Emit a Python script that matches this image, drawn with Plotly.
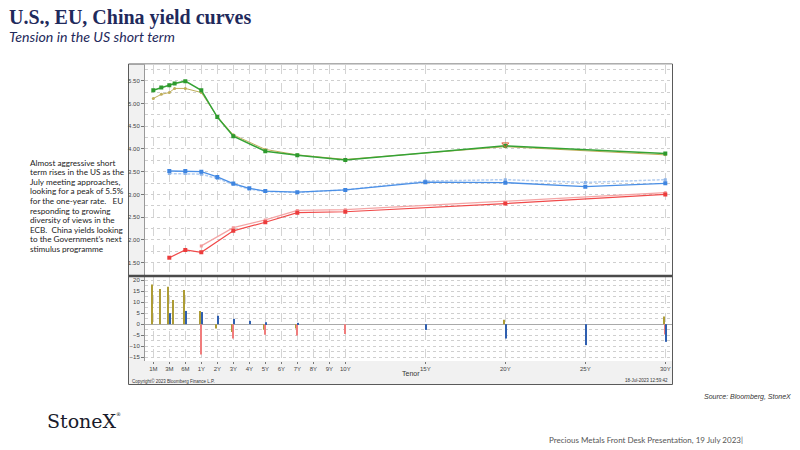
import plotly.graph_objects as go

# ---------------- data ----------------
tick_tenors = ["1M", "3M", "6M", "1Y", "2Y", "3Y", "4Y", "5Y", "6Y", "7Y", "8Y", "9Y", "10Y",
               "15Y", "20Y", "25Y", "30Y"]

us_tenors = ["1M", "2M", "3M", "4M", "6M", "1Y", "2Y", "3Y", "5Y", "7Y", "10Y", "20Y", "30Y"]
us_now = [5.29, 5.35, 5.40, 5.44, 5.49, 5.29, 4.70, 4.28, 3.95, 3.86, 3.76, 4.07, 3.90]
us_prev = [5.11, 5.20, 5.24, 5.33, 5.33, 5.24, 4.71, 4.31, 3.99, 3.87, 3.77, 4.05, 3.87]

eu_tenors = ["3M", "6M", "1Y", "2Y", "3Y", "4Y", "5Y", "7Y", "10Y", "15Y", "20Y", "25Y", "30Y"]
eu_now = [3.515, 3.515, 3.50, 3.385, 3.24, 3.135, 3.075, 3.05, 3.10, 3.27, 3.26, 3.17, 3.245]
eu_prev = [3.46, 3.46, 3.445, 3.35, 3.22, 3.12, 3.065, 3.045, 3.10, 3.295, 3.325, 3.265, 3.325]

cn_tenors = ["3M", "6M", "1Y", "3Y", "5Y", "7Y", "10Y", "20Y", "30Y"]
cn_now = [1.61, 1.78, 1.73, 2.20, 2.39, 2.60, 2.62, 2.80, 3.00]
cn_prev_tenors = ["1Y", "3Y", "5Y", "7Y", "10Y", "30Y"]
cn_prev = [1.87, 2.27, 2.44, 2.65, 2.665, 3.04]

flag_tenors = ["20Y"]
flag_values = [4.10]

# changes (bp)
us_chg_tenors = ["1M", "2M", "3M", "4M", "6M", "1Y", "2Y", "3Y", "5Y", "7Y", "20Y", "30Y"]
us_chg = [18, 16, 17, 11, 15.5, 6, -2, -3.5, -2.5, -2, 2, 3.5]
cn_chg_tenors = ["1Y", "3Y", "5Y", "7Y", "10Y", "30Y"]
cn_chg = [-13.7, -6.5, -4.8, -5.1, -4.4, -4.7]
eu_chg_tenors = ["3M", "6M", "1Y", "2Y", "3Y", "4Y", "5Y", "7Y", "15Y", "20Y", "25Y", "30Y"]
eu_chg = [5, 6, 5.5, 3.8, 2.4, 1.5, 0.9, 0.6, -2.6, -6.5, -9.5, -8]

side_text = [
    "Almost aggressive short",
    "term rises in the US as the",
    "July meeting approaches,",
    "looking for a peak of 5.5%",
    "for the one-year rate.   EU",
    "responding to growing",
    "diversity of views in the",
    "ECB.  China yields looking",
    "to the Government\u2019s next",
    "stimulus programme",
]


# tenor axis scale (Bloomberg-style: evenly spaced up to 10Y, then by years)
def tenor_pos(t):
    n = float(t[:-1])
    if t[-1] == "M":
        if n <= 3:
            return (n - 1) / 2
        if n <= 6:
            return 1 + (n - 3) / 3
        return 2 + (n - 6) / 6
    return n + 2


def P(ts):
    return [tenor_pos(t) for t in ts]


W, H = 800, 450


def X(px):
    return px / W


def Y(py):
    return 1 - py / H


NAVY = "#1f2a5c"
fig = go.Figure()

# ---------- top: yield curves ----------
fig.add_trace(go.Scatter(x=P(us_tenors), y=us_prev, mode="lines+markers",
                         line=dict(color="#bfae5a", width=1),
                         marker=dict(symbol="circle", size=3, color="#bfae5a"),
                         xaxis="x", yaxis="y"))
fig.add_trace(go.Scatter(x=P(us_tenors), y=us_now, mode="lines+markers",
                         line=dict(color="#35a335", width=1.5),
                         marker=dict(symbol="square", size=4, color="#2e9a2e"),
                         xaxis="x", yaxis="y"))
fig.add_trace(go.Scatter(x=P(flag_tenors), y=flag_values, mode="markers",
                         marker=dict(symbol="triangle-down-open", size=6, color="#e0603a",
                                     line=dict(width=1)),
                         xaxis="x", yaxis="y"))
fig.add_trace(go.Scatter(x=P(eu_tenors), y=eu_prev, mode="lines+markers",
                         line=dict(color="#b3cdf0", width=1.5, dash="3px,1.5px"),
                         marker=dict(symbol="square", size=3, color="#8fb5e8"),
                         xaxis="x", yaxis="y"))
fig.add_trace(go.Scatter(x=P(eu_tenors), y=eu_now, mode="lines+markers",
                         line=dict(color="#4a8fe6", width=1.3),
                         marker=dict(symbol="square", size=4, color="#3f85e0"),
                         xaxis="x", yaxis="y"))
fig.add_trace(go.Scatter(x=P(cn_prev_tenors), y=cn_prev, mode="lines+markers",
                         line=dict(color="#f4a5a5", width=1.3),
                         marker=dict(symbol="square", size=3, color="#f29a9a"),
                         xaxis="x", yaxis="y"))
fig.add_trace(go.Scatter(x=P(cn_tenors), y=cn_now, mode="lines+markers",
                         line=dict(color="#f04a4a", width=1.2),
                         marker=dict(symbol="square", size=4, color="#ec3c3c"),
                         xaxis="x", yaxis="y"))

# ---------- bottom: changes ----------
bw = 0.085
fig.add_trace(go.Bar(x=P(us_chg_tenors), y=us_chg, width=bw, offset=-0.1 - bw / 2,
                     marker=dict(color="#ad9c35", line=dict(width=0)), xaxis="x2", yaxis="y2"))
fig.add_trace(go.Bar(x=P(cn_chg_tenors), y=cn_chg, width=bw, offset=-0.02 - bw / 2,
                     marker=dict(color="#f07c7c", line=dict(width=0)), xaxis="x2", yaxis="y2"))
fig.add_trace(go.Bar(x=P(eu_chg_tenors), y=eu_chg, width=bw, offset=0.065 - bw / 2,
                     marker=dict(color="#2f5fb0", line=dict(width=0)), xaxis="x2", yaxis="y2"))

xr = [(145 - 153.3) / 16, (672 - 153.3) / 16]
tickpos = P(tick_tenors)
grid_common = dict(gridcolor="#d4d4d4", griddash="dash", gridwidth=1)

fig.update_layout(
    width=W, height=H, autosize=False,
    margin=dict(l=0, r=0, t=0, b=0),
    paper_bgcolor="white", plot_bgcolor="rgba(0,0,0,0)",
    showlegend=False, barmode="overlay",
    font=dict(family="Liberation Sans", color="#333"),
    xaxis=dict(domain=[X(145), X(672)], range=xr, anchor="y", matches="x2",
               tickvals=tickpos, showticklabels=False, ticks="", showline=False,
               zeroline=False, **grid_common),
    yaxis=dict(domain=[Y(275), Y(64.5)], range=[1.23, 5.856], anchor="x",
               tickvals=[1.5, 2.0, 2.5, 3.0, 3.5, 4.0, 4.5, 5.0, 5.5], tickformat=".2f",
               tickfont=dict(size=6, color="#444"), ticks="outside", ticklen=3,
               tickcolor="#777", showline=True, linecolor="#999", linewidth=1,
               zeroline=False, showgrid=True, gridcolor="#cfcfcf", griddash="dot",
               minor=dict(dtick=0.25, tick0=0, showgrid=True, gridcolor="#cfcfcf",
                          griddash="dot", ticks="")),
    xaxis2=dict(domain=[X(145), X(672)], range=xr, anchor="y2",
                tickvals=tickpos, ticktext=tick_tenors, tickfont=dict(size=6, color="#444"),
                ticks="outside", ticklen=2, tickcolor="#777", showline=False,
                zeroline=False, **grid_common),
    yaxis2=dict(domain=[Y(361), Y(277)], range=[-16.7, 21.4], anchor="x2",
                tickvals=[-15, -10, -5, 0, 5, 10, 15, 20],
                tickfont=dict(size=6, color="#444"), ticks="outside", ticklen=3,
                tickcolor="#777", showline=True, linecolor="#999", linewidth=1,
                zeroline=True, zerolinecolor="#aaaaaa", zerolinewidth=1,
                showgrid=True, gridcolor="#cfcfcf", griddash="dot",
                minor=dict(dtick=2.5, tick0=0, showgrid=True, gridcolor="#cfcfcf",
                           griddash="dot", ticks="")),
)

shapes = [
    # Bloomberg chart frame
    dict(type="rect", xref="paper", yref="paper", x0=X(128.5), x1=X(672.5), y0=Y(384.5), y1=Y(64),
         fillcolor="#f1f1f1", line=dict(color="#5a5a5a", width=1), layer="below"),
    dict(type="rect", xref="paper", yref="paper", x0=X(145), x1=X(672), y0=Y(275), y1=Y(64.5),
         fillcolor="white", line=dict(width=0), layer="below"),
    dict(type="rect", xref="paper", yref="paper", x0=X(145), x1=X(672), y0=Y(361), y1=Y(277),
         fillcolor="white", line=dict(width=0), layer="below"),
    # panel separator
    dict(type="line", xref="paper", yref="paper", x0=X(129), x1=X(672), y0=Y(276), y1=Y(276),
         line=dict(color="#4a4a4a", width=2.5), layer="above"),
]
fig.update_layout(shapes=shapes)

ann = [
    dict(text="<b>U.S., EU, China yield curves</b>", x=X(7), y=Y(17), xanchor="left",
         yanchor="middle", font=dict(family="Liberation Serif", size=20, color=NAVY)),
    dict(text="<i>Tension in the US short term</i>", x=X(7), y=Y(37), xanchor="left",
         yanchor="middle", font=dict(family="Lato", size=14.2, color=NAVY)),
    dict(text="Tenor", x=X(400), y=Y(373.5), xanchor="left", yanchor="middle",
         font=dict(family="Liberation Sans", size=7, color="#333")),
    dict(text="Copyright\u00a9 2023 Bloomberg Finance L.P.", x=X(130), y=Y(380.5), xanchor="left",
         yanchor="middle", font=dict(family="Liberation Sans", size=4.5, color="#333")),
    dict(text="18-Jul-2023 12:59:42", x=X(670), y=Y(380.5), xanchor="right",
         yanchor="middle", font=dict(family="Liberation Sans", size=4.5, color="#333")),
    dict(text="<i>Source: Bloomberg, StoneX</i>", x=X(793), y=Y(397), xanchor="right",
         yanchor="middle", font=dict(family="Liberation Sans", size=7, color="#333")),
    dict(text="Precious Metals Front Desk Presentation, 19 July 2023|", x=X(547), y=Y(440),
         xanchor="left", yanchor="middle", font=dict(family="Lato", size=8, color="#555")),
    dict(text="StoneX", x=X(45), y=Y(421), xanchor="left", yanchor="middle",
         font=dict(family="DejaVu Serif", size=19, color="#1a1c2c")),
    dict(text="\u00ae", x=X(114), y=Y(414), xanchor="left", yanchor="middle",
         font=dict(family="DejaVu Sans", size=5, color="#1a1c2c")),
]
for i, line in enumerate(side_text):
    ann.append(dict(text=line, x=X(28), y=Y(162.5 + i * 9.6), xanchor="left", yanchor="middle",
                    font=dict(family="Lato", size=8.2, color="#222")))
for a in ann:
    a.update(xref="paper", yref="paper", showarrow=False)
fig.update_layout(annotations=ann)

fig.write_html("out.html", include_plotlyjs=True, config={"displayModeBar": False},
               post_script="document.body.style.margin='0';document.body.style.padding='0';")
